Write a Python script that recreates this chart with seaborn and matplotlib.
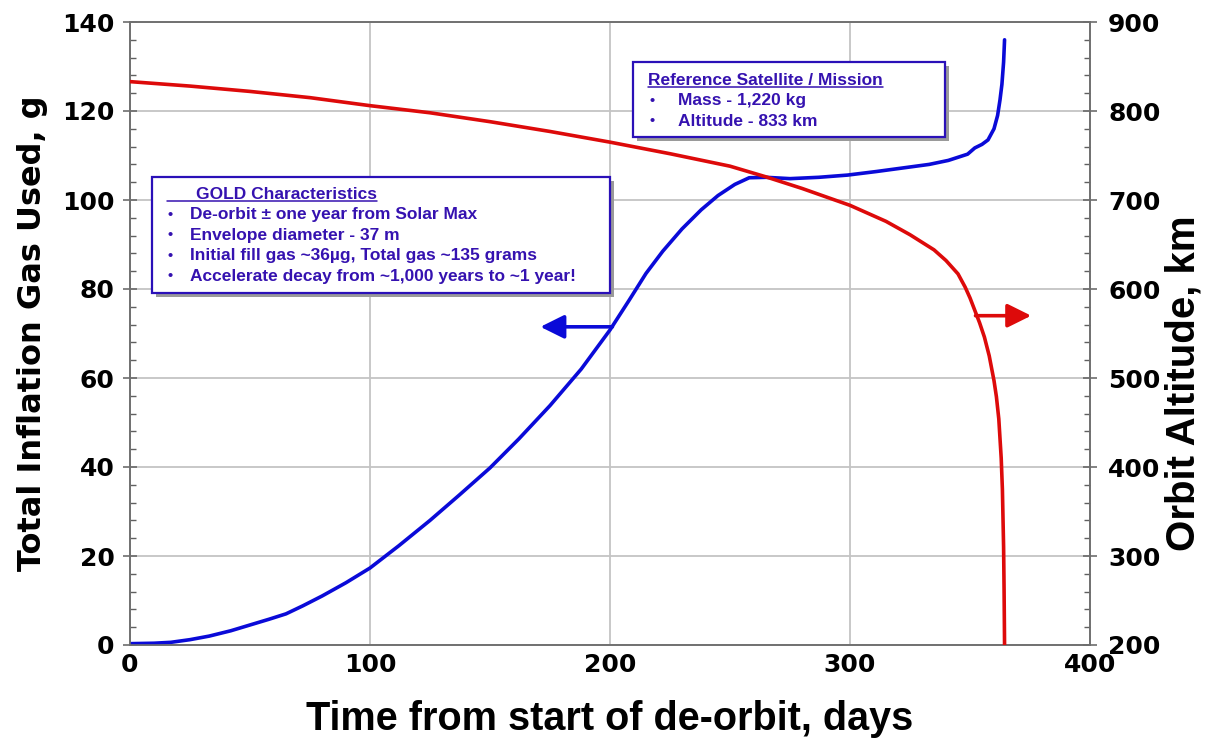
import matplotlib
matplotlib.use("Agg")
import matplotlib.pyplot as plt
import matplotlib.patches as mpatches
from matplotlib.ticker import MultipleLocator
import pandas as pd
import seaborn as sns

# Inflation gas consumed over the de-orbit (left axis)
gas_days = [0, 10, 17, 25, 33, 42, 50, 58, 65, 72, 80, 90, 100, 112, 125, 137, 150,
            162, 175, 188, 200, 208, 215, 222, 230, 238, 245, 252, 258, 265, 275,
            287, 299, 311, 322, 333, 341, 349, 352, 355, 357.5, 360, 361.5, 362.5,
            363.3, 364, 364.4]
gas_used = [0.3, 0.4, 0.6, 1.2, 2.0, 3.2, 4.5, 5.8, 7.0, 8.8, 11.0, 14.0, 17.3, 22.3,
            28.0, 33.6, 39.8, 46.3, 53.8, 62.0, 70.8, 77.5, 83.5, 88.5, 93.5, 97.8,
            101.0, 103.5, 105.0, 105.1, 104.8, 105.1, 105.6, 106.4, 107.2, 108.0,
            108.9, 110.3, 111.7, 112.5, 113.5, 116.0, 119.0, 122.5, 126.0, 131.0, 136.0]

# Orbit altitude over the de-orbit (right axis)
alt_days = [0, 25, 50, 75, 100, 125, 150, 175, 200, 225, 250, 265, 280, 300, 315, 325,
            335, 340, 345, 348, 350, 352, 354, 356, 358, 360, 361, 362, 363, 363.5, 364,
            364.2, 364.4]
altitude = [833, 828, 822, 815, 806, 798, 788, 777, 765, 752, 738, 726, 713, 694, 676,
            661, 644, 632, 617, 602, 590, 576, 562, 546, 525, 497, 479, 454, 410, 375,
            310, 262, 200]

gas = pd.DataFrame({"day": gas_days, "gas": gas_used})
alt = pd.DataFrame({"day": alt_days, "alt": altitude})

sns.set_style("white")
plt.rcParams["font.family"] = ["DejaVu Sans"]
plt.rcParams["text.color"] = "black"
plt.rcParams["axes.labelcolor"] = "black"
plt.rcParams["xtick.color"] = "black"
plt.rcParams["ytick.color"] = "black"

BLUE = "#0a0ad8"
RED = "#dd0a0a"
TXT = "#3512b0"
ARIAL = ["Liberation Sans", "DejaVu Sans"]

fig = plt.figure(figsize=(12.15, 7.54), dpi=100)
ax = fig.add_axes([130 / 1215, 1 - 645 / 754, 960 / 1215, 623 / 754])
ax2 = ax.twinx()

sns.lineplot(data=gas, x="day", y="gas", ax=ax, color=BLUE, lw=2.6, zorder=3)
sns.lineplot(data=alt, x="day", y="alt", ax=ax2, color=RED, lw=2.6, zorder=3)

ax.set_xlim(0, 400)
ax.set_ylim(0, 140)
ax2.set_ylim(200, 900)

ax.xaxis.set_major_locator(MultipleLocator(100))
ax.xaxis.set_minor_locator(MultipleLocator(20))
ax.yaxis.set_major_locator(MultipleLocator(20))
ax.yaxis.set_minor_locator(MultipleLocator(4))
ax2.yaxis.set_major_locator(MultipleLocator(100))
ax2.yaxis.set_minor_locator(MultipleLocator(20))

ax.grid(True, which="major", color="#c4c4c4", lw=1.3)
ax.set_axisbelow(True)

for a in (ax, ax2):
    for s in a.spines.values():
        s.set_color("#707070")
        s.set_linewidth(1.2)
    a.tick_params(which="major", direction="inout", length=10, width=1.1,
                  color="#606060", labelcolor="black")
    a.tick_params(which="minor", direction="in", length=4.5, width=1.0, color="#606060")

ax.tick_params(axis="y", which="major", labelsize=18, pad=6)
ax.tick_params(axis="x", which="major", labelsize=18, pad=1)
ax2.tick_params(axis="y", which="major", labelsize=18, pad=8)
for lab in ax.get_xticklabels() + ax.get_yticklabels() + ax2.get_yticklabels():
    lab.set_fontweight("bold")

ax.set_xlabel("Time from start of de-orbit, days", fontsize=28.5, fontweight="bold",
              family=ARIAL, labelpad=16)
ax.set_ylabel("Total Inflation Gas Used, g", fontsize=23, fontweight="bold", labelpad=10)
ax2.set_ylabel("Orbit Altitude, km", fontsize=29, fontweight="bold", family=ARIAL)
ax2.yaxis.set_label_coords(1.078, 0.42)
ax2.set_xlabel("")

# Direction arrows pointing to each curve's axis
arrow = "-|>,head_length=1.45,head_width=0.72"
ax.annotate("", xy=(171, 71.5), xytext=(201, 71.5),
            arrowprops=dict(arrowstyle=arrow, color=BLUE, lw=2.6, shrinkA=0, shrinkB=0),
            zorder=4)
ax.annotate("", xy=(375.5, 74.0), xytext=(352.3, 74.0),
            arrowprops=dict(arrowstyle=arrow, color=RED, lw=2.6, shrinkA=0, shrinkB=0),
            zorder=4)


def info_box(x0, y0, x1, y1, title, title_x, lines, bullet_x, text_x, first_y, step, fs):
    """Draw a shadowed framed note in axes-fraction coordinates."""
    sh = 4 / 960
    shy = 4 / 623
    ax2.add_patch(mpatches.Rectangle((x0 + sh, y0 - shy), x1 - x0, y1 - y0,
                                     transform=ax.transAxes, facecolor="#9a9a9a",
                                     edgecolor="none", zorder=5, clip_on=False))
    ax2.add_patch(mpatches.Rectangle((x0, y0), x1 - x0, y1 - y0, transform=ax.transAxes,
                                     facecolor="white", edgecolor="#2a10b8", lw=1.6,
                                     zorder=6, clip_on=False))
    kw = dict(transform=ax.transAxes, family=ARIAL, fontweight="bold", fontsize=fs,
              color=TXT, va="center", zorder=7)
    t = ax2.text(title_x, first_y, title, **kw)
    for i, line in enumerate(lines):
        yy = first_y - step * (i + 1)
        ax2.text(bullet_x, yy, "\u2022", **{**kw, "fontsize": fs - 2})
        ax2.text(text_x, yy, line, **kw)
    return t


gold_title = info_box(22 / 960, 1 - 271 / 623, 480 / 960, 1 - 155 / 623,
                      "GOLD Characteristics", 66 / 960,
                      ["De-orbit \u00b1 one year from Solar Max",
                       "Envelope diameter - 37 m",
                       "Initial fill gas ~36\u00b5g, Total gas ~135 grams",
                       "Accelerate decay from ~1,000 years to ~1 year!"],
                      37 / 960, 60 / 960, 1 - 172 / 623, 20.6 / 623, 12.5)
ref_title = info_box(503 / 960, 1 - 115 / 623, 815 / 960, 1 - 40 / 623,
                     "Reference Satellite / Mission", 518 / 960,
                     ["Mass - 1,220 kg", "Altitude - 833 km"],
                     520 / 960, 548 / 960, 1 - 58 / 623, 20.5 / 623, 12.5)

# Underline the box headings
fig.canvas.draw()
inv = ax.transAxes.inverted()
for t, pad in ((gold_title, 29), (ref_title, 0)):
    bb = t.get_window_extent()
    (lx0, ly0), (lx1, _) = inv.transform([[bb.x0 - pad, bb.y0], [bb.x1, bb.y0]])
    ax2.plot([lx0, lx1], [ly0 + 0.001, ly0 + 0.001], transform=ax.transAxes,
             color=TXT, lw=1.1, zorder=7, clip_on=False)

fig.savefig("out.png", dpi=100, facecolor="white")
